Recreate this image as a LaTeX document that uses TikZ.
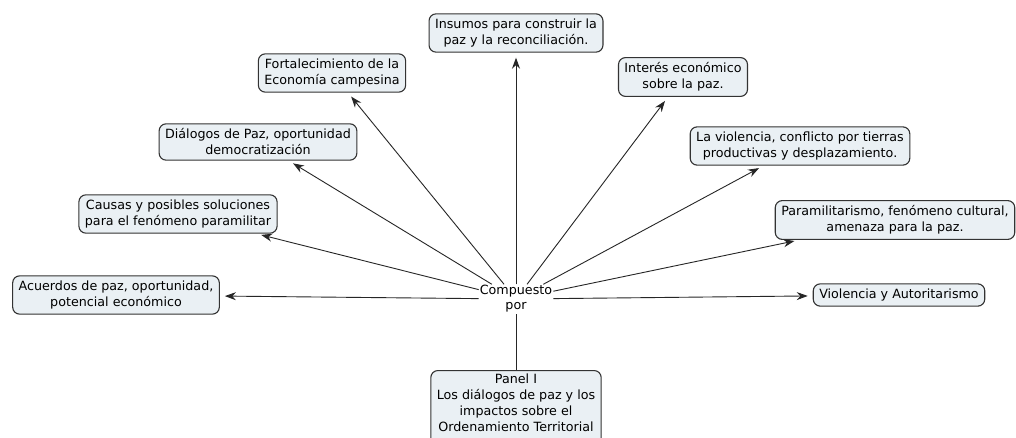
\documentclass[tikz,border=0pt]{standalone}
\usepackage{fontspec}
\setmainfont{DejaVu Sans}
\usetikzlibrary{arrows.meta}
\definecolor{boxfill}{HTML}{EAF0F4}
\definecolor{boxline}{HTML}{333333}
\begin{document}
\begin{tikzpicture}[x=1pt,y=-1pt,
  concept/.style={draw=boxline,line width=1.1pt,fill=boxfill,rounded corners=7pt,
    align=center,font=\fontsize{12.7}{16}\selectfont,inner xsep=6pt,inner ysep=5pt},
  link/.style={font=\fontsize{12.7}{15}\selectfont,align=center,inner sep=1pt,fill=white},
  conn/.style={draw=black!85,line width=0.9pt,-{Stealth[length=11pt,width=8pt]},shorten >=5pt}]
\useasboundingbox (0,0) rectangle (1016,438);
\fill[white] (0,0) rectangle (1016,438);
\clip (0,0) rectangle (1016,438);

\node[link] (cp) at (516,299) {Compuesto\\por};

\node[concept] (acu) at (116,295) {Acuerdos de paz, oportunidad,\\potencial económico};
\node[concept] (cau) at (178,214) {Causas y posibles soluciones\\para el fenómeno paramilitar};
\node[concept] (dia) at (258,142) {Diálogos de Paz, oportunidad\\democratización};
\node[concept] (for) at (332,73) {Fortalecimiento de la\\Economía campesina};
\node[concept] (ins) at (516,33) {Insumos para construir la\\paz y la reconciliación.};
\node[concept] (int) at (683,77) {Interés económico\\sobre la paz.};
\node[concept] (lav) at (800,146) {La violencia, conflicto por tierras\\productivas y desplazamiento.};
\node[concept] (par) at (895,220) {Paramilitarismo, fenómeno cultural,\\amenaza para la paz.};
\node[concept] (vya) at (899,295) {Violencia y Autoritarismo};
\node[concept,anchor=north,inner ysep=3pt] (pan) at (516,370) {Panel I\\Los diálogos de paz y los\\impactos sobre el\\Ordenamiento Territorial\\[2pt]};

\draw[draw=black!85,line width=0.9pt] (pan.north) -- (cp);
\foreach \t in {acu,cau,dia,for,ins,int,lav,par,vya}
  \draw[conn] (cp) -- (\t);
\end{tikzpicture}
\end{document}
